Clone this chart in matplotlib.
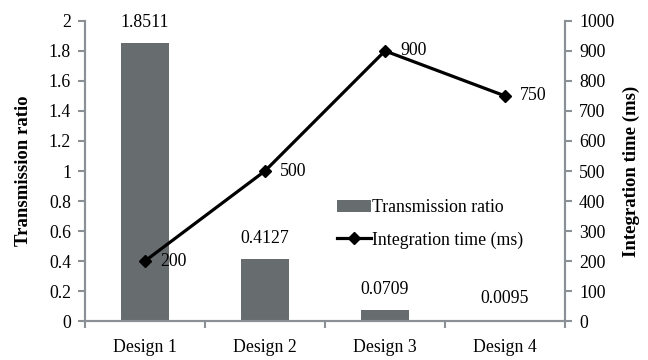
import numpy as np
import matplotlib
matplotlib.use("Agg")
import matplotlib.pyplot as plt

# chart data
designs = ["Design 1", "Design 2", "Design 3", "Design 4"]
transmission = [1.8511, 0.4127, 0.0709, 0.0095]
integration_ms = [200, 500, 900, 750]

plt.rcParams["font.family"] = ["Liberation Serif", "DejaVu Serif"]
plt.rcParams["font.size"] = 12.8

bar_color = "#676c6f"
spine_color = "#8a9096"

fig = plt.figure(figsize=(6.48, 3.6), dpi=100)
ax = fig.add_axes([0.131, 0.108, 0.741, 0.834])
ax2 = ax.twinx()

x = np.arange(len(designs))

bars = ax.bar(x, transmission, width=0.4, color=bar_color, label="Transmission ratio")
for xi, v in zip(x, transmission):
    ax.annotate(f"{v:.4f}", (xi, v), xytext=(0, 9), textcoords="offset points",
                ha="center", va="bottom")

line, = ax2.plot(x, integration_ms, color="black", lw=2.3, marker="D", ms=6.5,
                 label="Integration time (ms)")
for xi, v in zip(x, integration_ms):
    ax2.annotate(f"{v}", (xi, v), xytext=(11, 0), textcoords="offset points",
                 ha="left", va="center")

ax.set_xlim(-0.5, 3.5)
ax.set_ylim(0, 2)
ax.set_yticks(np.arange(0, 2.01, 0.2))
ax.set_yticklabels(["0", "0.2", "0.4", "0.6", "0.8", "1", "1.2", "1.4", "1.6", "1.8", "2"])
ax2.set_ylim(0, 1000)
ax2.set_yticks(np.arange(0, 1001, 100))

# category labels centred, tick marks at category boundaries
ax.set_xticks(x)
ax.set_xticklabels(designs)
ax.set_xticks(np.arange(-0.5, 3.6, 1), minor=True)
ax.tick_params(axis="x", which="major", length=0, pad=13)
ax.tick_params(axis="x", which="minor", length=5, width=1.5, color=spine_color, direction="out")
ax.tick_params(axis="y", length=5, width=1.5, color=spine_color, direction="out", pad=5)
ax2.tick_params(axis="y", length=5, width=1.5, color=spine_color, direction="out", pad=5)

for a in (ax, ax2):
    a.spines["top"].set_visible(False)
    for s in ("left", "right", "bottom"):
        a.spines[s].set_color(spine_color)
        a.spines[s].set_linewidth(1.5)

ax.set_ylabel("Transmission ratio", fontweight="bold", fontsize=13.5, labelpad=12)
ax2.set_ylabel("Integration time (ms)", fontweight="bold", fontsize=13.5, labelpad=6)

ax2.legend([bars, line], ["Transmission ratio", "Integration time (ms)"],
           frameon=False, loc="upper left", bbox_to_anchor=(0.51, 0.43),
           handlelength=1.9, handletextpad=0.1, labelspacing=0.85,
           borderaxespad=0, fontsize=12.8)

fig.savefig("out.png", dpi=100)
